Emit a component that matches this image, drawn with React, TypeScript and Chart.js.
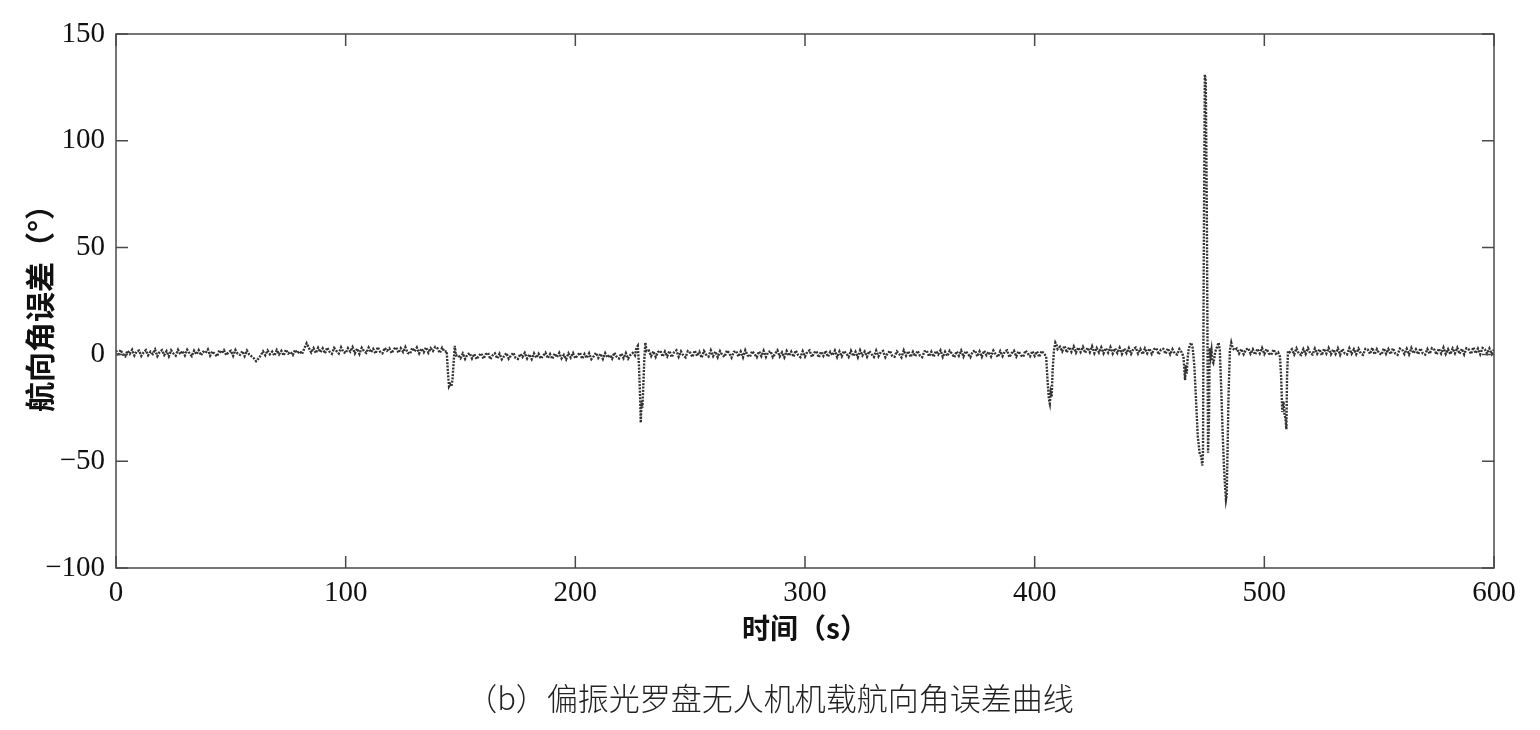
import { useEffect, useRef } from "react";
import { Chart, registerables } from "chart.js";

Chart.register(...registerables);

// ---------------- data ----------------
// Baseline heading error, one sample per second (t = index * sampleStepS).
// null = that second is covered by the detailed event samples below.
const sampleStepS = 1;
const baselineErrDeg: (number | null)[] = [
  /*   0 */ 1.9, -0.6, 2.1, 0.0, -0.9, 1.7, 0.3, 2.2, -0.5, 1.4,
  /*  10 */ 1.8, -0.7, 0.9, 2.0, -0.4, 1.3, 0.2, 2.3, -0.8, 1.1,
  /*  20 */ 2.0, -0.3, 1.5, -0.9, 1.9, 0.4, -0.6, 2.1, 0.1, 1.6,
  /*  30 */ -0.5, 2.2, 0.6, -0.8, 1.8, 0.0, 2.0, -0.4, 1.2, 0.7,
  /*  40 */ 2.3, -0.6, 1.4, 0.2, -0.9, 1.9, 0.5, 2.0, -0.3, 1.0,
  /*  50 */ 1.7, -0.7, 2.1, 0.3, -0.2, 1.5, -0.8, 1.8, 0.0, -0.9,
  /*  60 */ -1.8, -3.2, -2.0, -0.5, 1.4, -0.4, 1.8, 0.1, 1.3, -0.6,
  /*  70 */ 2.0, 0.0, 1.6, -0.5, 2.2, 0.4, 1.1, -0.3, 2.1, 0.6,
  /*  80 */ 1.5, 0.2, 2.8, 5.2, 3.0, 0.9, 2.9, 0.6, 3.1, 1.0,
  /*  90 */ 2.8, 0.5, 3.2, 1.2, 0.3, 3.0, 1.6, 0.4, 3.3, 1.1,
  /* 100 */ 0.6, 2.9, 1.3, 3.4, 0.5, 2.7, 0.2, 3.1, 1.5, 0.7,
  /* 110 */ 3.2, 1.0, 2.6, 0.4, 3.4, 1.2, 0.5, 3.0, 1.7, 2.8,
  /* 120 */ 0.6, 2.5, 3.3, 0.8, 2.9, 1.1, 3.4, 0.7, 0.3, 3.0,
  /* 130 */ 1.4, 3.2, 0.5, 2.7, 1.0, 3.3, 0.8, 2.9, 1.6, 3.5,
  /* 140 */ 2.8, 0.7, 3.1, 1.3, null, null, null, null, null, -0.3,
  /* 150 */ -1.8, 0.4, -2.1, -0.1, 0.6, -1.9, 0.2, -2.2, -0.6, 0.5,
  /* 160 */ -2.0, 0.1, 0.7, -2.2, -0.4, 0.5, -1.9, 0.3, -2.3, -0.8,
  /* 170 */ 0.6, -2.0, -0.5, 0.8, -1.7, -2.1, 0.2, -1.2, 0.7, -1.9,
  /* 180 */ 0.0, -2.2, 0.5, -1.6, 0.3, -2.0, -0.6, 0.8, -1.8, 0.1,
  /* 190 */ -2.1, 0.4, -1.3, 0.7, -1.9, -0.2, -2.3, 0.5, -1.5, 0.6,
  /* 200 */ -1.8, -0.4, 0.8, -2.0, 0.2, -1.7, 0.5, -2.2, -0.9, 0.7,
  /* 210 */ -1.6, 0.3, -2.1, 0.6, -1.4, -0.3, -2.0, 0.8, -1.1, -1.9,
  /* 220 */ 0.4, -1.8, 0.6, -2.0, -0.2, 0.7, null, null, null, null,
  /* 230 */ null, null, 1.8, -0.8, 1.4, -1.2, 1.1, 1.7, -1.0, 1.3,
  /* 240 */ -0.9, 1.6, -1.3, 1.0, 1.9, -1.1, 1.4, -0.4, -1.4, 1.5,
  /* 250 */ 0.8, -1.2, 1.8, -0.7, 1.2, -1.5, 1.6, -0.2, -1.0, 1.9,
  /* 260 */ -0.8, 1.3, -1.3, 1.5, -0.3, -1.1, 1.8, 0.6, -1.5, 1.2,
  /* 270 */ 1.6, -1.0, 1.3, -1.4, 1.9, -0.5, -1.1, 1.5, 0.2, -1.3,
  /* 280 */ 1.4, -0.8, 1.7, -1.2, 1.1, 1.5, -1.3, 0.3, 1.9, -1.0,
  /* 290 */ 0.9, -1.4, 1.6, -0.6, 1.3, -1.1, 1.8, -0.3, -1.3, 1.5,
  /* 300 */ -1.0, 1.2, 1.9, -1.2, 0.7, 1.5, -1.4, 1.3, -0.7, 1.7,
  /* 310 */ -1.1, 1.2, -0.4, 1.8, -1.3, 1.4, -0.9, 1.6, 0.4, -1.2,
  /* 320 */ 1.7, -0.8, 1.2, -1.4, 1.9, -0.5, 1.3, -1.1, 1.5, 0.1,
  /* 330 */ -1.2, 1.8, -0.9, 1.1, 1.6, -1.3, 0.5, 1.7, -0.8, -1.1,
  /* 340 */ 1.4, 0.2, -1.4, 1.9, -0.6, 1.5, -1.2, 1.2, -0.9, 1.7,
  /* 350 */ -0.5, -1.3, 1.4, 1.8, -0.9, 1.2, -1.1, 1.6, 0.0, 1.9,
  /* 360 */ -1.2, 1.2, -0.8, 1.7, 0.3, -1.4, 1.4, -0.6, 1.8, -1.0,
  /* 370 */ 1.5, 0.2, -1.3, 1.3, 1.9, -0.9, 1.4, -1.1, 1.7, -0.4,
  /* 380 */ 1.2, -1.0, 1.8, 0.1, -1.2, 1.5, -0.8, 1.4, 1.9, -1.3,
  /* 390 */ 0.6, 1.7, -1.0, 1.4, -0.5, -1.1, 1.8, 0.4, -0.9, 1.5,
  /* 400 */ -0.7, 1.4, -1.2, 1.6, null, null, null, null, null, null,
  /* 410 */ null, 3.6, 1.4, 4.0, 0.9, 3.4, 1.2, 3.7, 0.8, 3.2,
  /* 420 */ 1.1, 3.5, 0.7, 3.1, 1.0, 3.8, 0.6, 3.0, 0.9, 3.3,
  /* 430 */ 0.5, 2.9, 0.8, 3.4, 0.4, 2.8, 0.7, 3.1, 0.2, 2.7,
  /* 440 */ 0.6, 3.0, 0.3, 2.6, 3.2, 0.4, 2.5, 0.1, 2.8, 0.5,
  /* 450 */ 2.7, 0.2, 2.4, 2.9, 0.0, 2.3, 2.6, 0.3, 2.8, 0.1,
  /* 460 */ 2.4, 0.4, -0.1, 2.5, null, null, null, null, null, null,
  /* 470 */ null, null, null, null, null, null, null, null, null, null,
  /* 480 */ null, null, null, null, null, null, null, null, 2.7, 0.4,
  /* 490 */ 2.5, 0.1, 2.3, 2.9, 0.3, 2.4, -0.1, 2.6, 0.5, 3.0,
  /* 500 */ 0.2, 2.5, 0.4, -0.2, 2.3, 0.3, null, null, null, null,
  /* 510 */ null, null, 2.4, 0.0, 2.8, 0.4, -0.3, 2.5, 0.2, 2.9,
  /* 520 */ 0.5, -0.1, 2.7, 0.3, 2.4, -0.4, 2.6, 0.4, 3.0, 0.1,
  /* 530 */ 2.3, 0.2, 2.8, -0.2, 2.5, 0.5, 0.0, 2.9, 0.3, 2.4,
  /* 540 */ 0.1, 2.7, 0.4, -0.2, 2.6, 2.3, 0.2, 3.1, 0.0, 2.4,
  /* 550 */ 0.5, -0.1, 2.8, 0.3, 2.5, 0.1, 2.9, 0.4, -0.2, 2.7,
  /* 560 */ 2.3, 0.2, 2.6, 0.0, 3.0, 0.5, 2.4, 0.1, 2.8, 0.4,
  /* 570 */ -0.1, 2.5, 0.3, 2.9, 2.3, 0.0, 2.7, 0.4, 3.2, 0.2,
  /* 580 */ 2.4, 0.1, 2.8, 0.5, 3.1, 0.3, 2.6, 0.0, 2.9, 2.3,
  /* 590 */ 0.2, 3.3, 0.5, 2.7, 0.1, 3.0, 2.4, 0.4, 2.8, 0.2,
  /* 600 */ 2.3,
];

// Detailed samples around the error spikes (time in s, error in degrees)
const eventTimeS: number[] = [
  // ~145 s
  144, 144.5, 145, 145.5, 146, 146.5, 147, 147.5, 148,
  // ~228 s
  226, 226.6, 227.2, 227.7, 228.2, 228.5, 228.8, 229.2, 229.6, 230, 230.5, 231,
  // ~407 s
  404, 405, 405.6, 406.2, 406.6, 407, 407.4, 407.8, 408.4, 409, 409.5, 410,
  // 464–487 s
  464, 464.8, 465.2, 465.5, 465.8, 466.2, 466.6, 467, 467.6, 468.2,
  468.8, 469.5, 470.2, 471, 471.8, 472.5, 473, 473.3, 473.6, 474.1,
  474.5, 475, 475.5, 475.9, 476.2, 476.6, 477, 477.4, 477.8, 478.2,
  478.6, 479, 479.6, 480.1, 480.6, 481.2, 481.8, 482.4, 482.9, 483.3,
  483.6, 483.9, 484.4, 485, 485.6, 486.2, 487,
  // ~509 s
  506, 506.8, 507.3, 507.8, 508.3, 508.8, 509.2, 509.6, 509.9, 510.3, 511,
];
const eventErrDeg: number[] = [
  // ~145 s
  1.5, -8, -15, -14, -15, -12, -4, 4, -0.5,
  // ~228 s
  -0.5, 3, 4, -5, -20, -32, -22, -25, -15, -3, 5.5, 1.5,
  // ~407 s
  0.5, -1, -12, -21, -23, -18, -20, -8, 2, 5.5, 4.5, 2.5,
  // 464–487 s
  1, -1, -8, -12, -5, -9, -2, 2, 4.5, 5.5,
  3, -5, -20, -38, -46, -48, -52, -45, 40, 131,
  128, 60, -46, -30, 3, -1, 2, -3, -4, -2,
  1, 2.5, 4, 5.5, 2, -15, -35, -52, -62, -68,
  -66, -50, -20, 2, 5.5, 3, 2,
  // ~509 s
  1, -1, -10, -27, -22, -28, -30, -35, -10, 1.5, 1,
];

const xMin = 0;
const xMax = 600;
const xStep = 100;
const yMin = -100;
const yMax = 150;
const yStep = 50;

const xAxisTitle = "时间（s）";
const yAxisTitle = "航向角误差（°）";
const captionText = "（b）偏振光罗盘无人机机载航向角误差曲线";

// ---------------- chart ----------------
const TICK_FONT = "'Liberation Serif', 'Times New Roman', serif";
const CJK_FONT = "'Noto Sans CJK SC', 'Noto Sans', sans-serif";

const framePlugin = {
  id: "matlabFrame",
  afterDatasetsDraw(chart: any) {
    const { ctx, chartArea, scales } = chart;
    const { left, right, top, bottom } = chartArea;
    const xs = scales.x;
    const ys = scales.y;
    const tl = 12;
    ctx.save();
    ctx.strokeStyle = "#4a4a4a";
    ctx.lineWidth = 1.5;
    ctx.strokeRect(left, top, right - left, bottom - top);
    ctx.beginPath();
    xs.ticks.forEach((t: any) => {
      const px = xs.getPixelForValue(t.value);
      ctx.moveTo(px, bottom);
      ctx.lineTo(px, bottom - tl);
      ctx.moveTo(px, top);
      ctx.lineTo(px, top + tl);
    });
    ys.ticks.forEach((t: any) => {
      const py = ys.getPixelForValue(t.value);
      ctx.moveTo(left, py);
      ctx.lineTo(left + tl, py);
      ctx.moveTo(right, py);
      ctx.lineTo(right - tl, py);
    });
    ctx.stroke();
    ctx.restore();
  },
};

function fmtTick(v: number): string {
  return v < 0 ? "\u2212" + Math.abs(v) : String(v);
}

export default function App() {
  const canvasRef = useRef<HTMLCanvasElement | null>(null);

  useEffect(() => {
    const canvas = canvasRef.current;
    if (!canvas) return;

    const points: { x: number; y: number }[] = [];
    baselineErrDeg.forEach((v, i) => {
      if (v !== null) points.push({ x: i * sampleStepS, y: v });
    });
    eventTimeS.forEach((t, i) => points.push({ x: t, y: eventErrDeg[i] }));
    points.sort((a, b) => a.x - b.x);

    const chart = new Chart(canvas, {
      type: "line",
      data: {
        datasets: [
          {
            data: points,
            borderColor: "#333333",
            borderWidth: 2.4,
            borderDash: [2, 1.3],
            pointRadius: 0,
            tension: 0,
            fill: false,
          },
        ],
      },
      options: {
        animation: false,
        responsive: false,
        devicePixelRatio: 1,
        layout: { padding: { left: 0, right: 46, top: 34, bottom: 80 } },
        plugins: {
          legend: { display: false },
          tooltip: { enabled: false },
          title: { display: false },
        },
        scales: {
          x: {
            type: "linear",
            min: xMin,
            max: xMax,
            grid: { display: false, drawTicks: false },
            border: { display: false },
            ticks: {
              stepSize: xStep,
              padding: 8,
              color: "#111",
              font: { family: TICK_FONT, size: 29 },
              maxRotation: 0,
              callback: (v: any) => fmtTick(Number(v)),
            },
            title: {
              display: true,
              text: xAxisTitle,
              color: "#111",
              font: { family: CJK_FONT, size: 28, weight: "bold" },
              padding: { top: 0, bottom: 5 },
            },
            afterFit: (s: any) => {
              s.height = 82;
            },
          },
          y: {
            type: "linear",
            min: yMin,
            max: yMax,
            grid: { display: false, drawTicks: false },
            border: { display: false },
            ticks: {
              stepSize: yStep,
              padding: 11,
              color: "#111",
              font: { family: TICK_FONT, size: 29 },
              callback: (v: any) => fmtTick(Number(v)),
            },
            title: {
              display: true,
              text: yAxisTitle,
              color: "#111",
              font: { family: CJK_FONT, size: 30, weight: "bold" },
              padding: { top: 22, bottom: 0 },
            },
            afterFit: (s: any) => {
              s.width = 116;
            },
          },
        },
      },
      plugins: [framePlugin],
    });

    return () => chart.destroy();
  }, []);

  return (
    <div
      style={{
        position: "absolute",
        left: 0,
        top: 0,
        width: 1540,
        height: 730,
        background: "#fff",
        overflow: "hidden",
      }}
    >
      <canvas ref={canvasRef} width={1540} height={730} />
      <div
        style={{
          position: "absolute",
          left: 0,
          width: 1540,
          top: 676,
          textAlign: "center",
          fontFamily: CJK_FONT,
          fontSize: 31,
          lineHeight: "42px",
          color: "#222",
          fontWeight: 300,
        }}
      >
        {captionText}
      </div>
    </div>
  );
}
